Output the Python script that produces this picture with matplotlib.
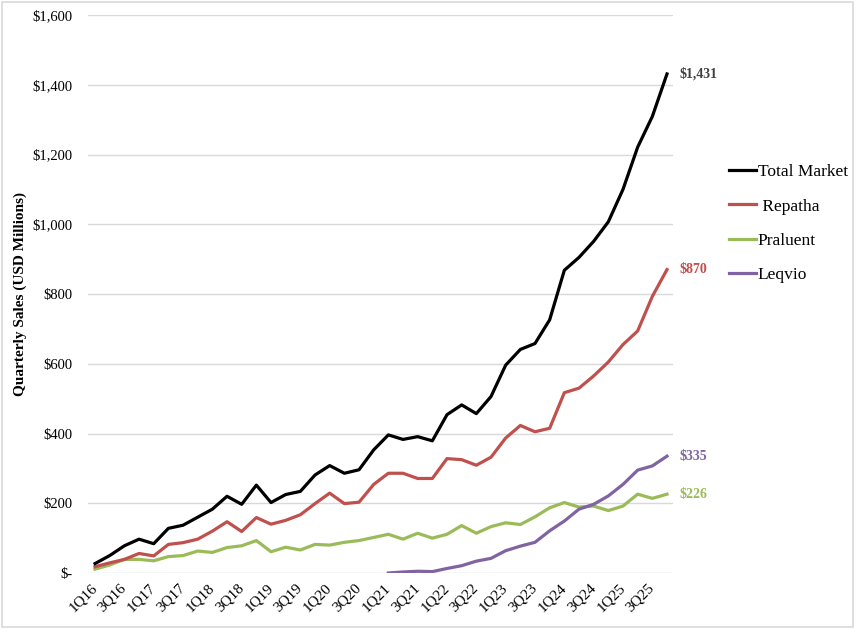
import matplotlib
matplotlib.use("Agg")
import matplotlib.pyplot as plt
import numpy as np
from matplotlib.patches import Rectangle

quarters = [f"{q}Q{y}" for y in range(16, 26) for q in range(1, 5)]

total_market = [27, 50, 78, 97, 84, 128, 137, 160, 183, 220, 197, 252, 202, 225, 234, 281,
                308, 286, 296, 353, 396, 383, 391, 379, 454, 482, 457, 506, 596, 641, 658, 726,
                868, 905, 951, 1007, 1100, 1221, 1309, 1431]
repatha = [18, 29, 39, 56, 49, 82, 87, 97, 120, 147, 119, 159, 140, 151, 167, 199,
           229, 199, 203, 254, 286, 286, 271, 271, 328, 325, 309, 332, 387, 423, 405, 415,
           517, 530, 565, 605, 655, 694, 793, 870]
praluent = [11, 23, 39, 39, 35, 47, 50, 63, 59, 73, 78, 93, 61, 74, 66, 82,
            80, 88, 93, 102, 111, 97, 114, 100, 111, 136, 114, 133, 144, 139, 161, 187,
            202, 189, 192, 179, 192, 226, 214, 226]
leqvio_start = "1Q21"
leqvio = [0, 3, 5, 4, 13, 21, 34, 42, 64, 77, 88, 121, 149, 183, 197, 221, 254, 295, 307, 335]

yticks = [0, 200, 400, 600, 800, 1000, 1200, 1400, 1600]
ytick_labels = ["$-", "$200", "$400", "$600", "$800", "$1,000", "$1,200", "$1,400", "$1,600"]

c_total = "#000000"
c_rep = "#C0504D"
c_pra = "#9BBB59"
c_leq = "#8064A2"

plt.rcParams['font.family'] = ['Liberation Serif', 'DejaVu Serif']

fig = plt.figure(figsize=(8.6, 6.34), dpi=100)
fig.patches.append(Rectangle((2/860, 7/634), 851/860, 625/634, transform=fig.transFigure,
                             fill=False, edgecolor="#D9D9D9", lw=1.2))
ax = fig.add_axes([88/860, 61/634, 585/860, 558/634])

x = np.arange(len(quarters))
i0 = quarters.index(leqvio_start)
xl = np.arange(i0, i0 + len(leqvio))

lw = 2.3
ax.plot(x, total_market, color=c_total, lw=lw, label="Total Market", zorder=5)
ax.plot(x, repatha, color=c_rep, lw=lw, label=" Repatha", zorder=4)
ax.plot(x, praluent, color=c_pra, lw=lw, label="Praluent", zorder=3)
ax.plot(xl, leqvio, color=c_leq, lw=lw, label="Leqvio", zorder=3)

ax.set_xlim(-0.48, len(quarters) - 1 + 0.41)
ax.set_ylim(0, 1600)
ax.set_yticks(yticks)
ax.set_yticklabels(ytick_labels, fontsize=10.5)
ax.set_xticks(x[::2])
ax.set_xticklabels(quarters[::2], fontsize=11, rotation=45, ha='right', va='center',
                   rotation_mode='anchor')
ax.tick_params(axis='x', length=0, pad=9)
ax.tick_params(axis='y', length=0, pad=11)
ax.grid(axis='y', color="#D9D9D9", lw=1.0)
ax.set_axisbelow(True)
for s in ax.spines.values():
    s.set_visible(False)

ax.set_ylabel("Quarterly Sales (USD Millions)", fontsize=11, fontweight='bold', labelpad=4)

# end labels
ends = [(x[-1], total_market[-1], "#404040"), (x[-1], repatha[-1], c_rep),
        (xl[-1], leqvio[-1], c_leq), (x[-1], praluent[-1], c_pra)]
for xe, ye, col in ends:
    ax.annotate(f"${ye:,}", (xe, ye), xytext=(9, 0), textcoords='offset points',
                ha='left', va='center', fontsize=10, fontweight='bold', color=col,
                annotation_clip=False)

leg = fig.legend(loc='upper left', bbox_to_anchor=(729/860, 1 - 164/634), frameon=False,
                 fontsize=12.5, handlelength=1.55, handletextpad=0.1, labelspacing=1.05,
                 borderpad=0, borderaxespad=0)

fig.savefig("out.png", dpi=100)
